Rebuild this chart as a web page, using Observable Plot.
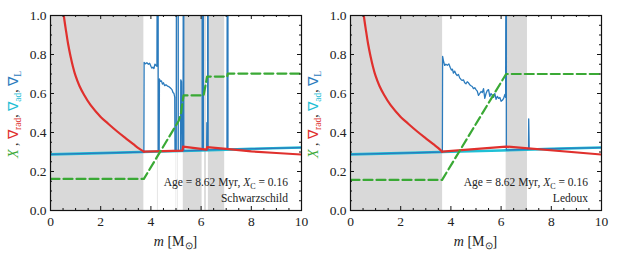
<!DOCTYPE html>
<html><head><meta charset="utf-8">
<script src="https://cdn.jsdelivr.net/npm/d3@7"></script>
<script src="https://cdn.jsdelivr.net/npm/@observablehq/plot@0.6"></script>
<style>
body{margin:0;background:#fff;}
#wrap{position:relative;width:618px;height:257px;overflow:hidden;background:#fff;}
#wrap svg{position:absolute;top:0;}
</style></head><body><div id="wrap"></div>
<script>
// ---------- data ----------
const xMajor = [0, 2, 4, 6, 8, 10];
const xMinor = [0.5, 1, 1.5, 2.5, 3, 3.5, 4.5, 5, 5.5, 6.5, 7, 7.5, 8.5, 9, 9.5];
const yMajor = [0, 0.2, 0.4, 0.6, 0.8, 1.0];
const yMinor = [0.05, 0.1, 0.15, 0.25, 0.3, 0.35, 0.45, 0.5, 0.55, 0.65, 0.7, 0.75, 0.85, 0.9, 0.95];

const panelNames = ["Schwarzschild", "Ledoux"];
const ageText = ["Age", "=", "8.62", "Myr,", "X", "C", "=", "0.16"];

// adiabatic gradient (same in both panels)
const gradAd = [[0, 0.288], [2, 0.294], [4, 0.301], [6, 0.308], [8, 0.316], [10, 0.323]];

// radiative gradient: smooth decay in the core, then the envelope part
const radDecay = [[0.45, 1.1], [0.53, 1.0], [0.62, 0.92], [0.7, 0.855], [0.8, 0.79], [0.9, 0.735], [1.0, 0.69],
  [1.15, 0.64], [1.33, 0.595], [1.6, 0.54], [2.0, 0.48], [2.3, 0.445], [2.66, 0.405], [3.0, 0.37], [3.3, 0.34],
  [3.5, 0.32]];
const radEndSchw = [3.72, 0.302];
const radEndLed = [3.65, 0.302];
const radTailSchw = [[3.72, 0.302], [4.5, 0.304], [5.26, 0.307], [5.28, 0.328], [6.0, 0.316], [6.22, 0.312],
  [6.24, 0.325], [7.0, 0.316], [8.0, 0.303], [9.0, 0.295], [10, 0.287]];
const radTailLed = [[3.65, 0.302], [6.2, 0.328], [10, 0.287]];

// hydrogen abundance X
const xSchw = [[0, 0.162], [3.72, 0.162], [5.11, 0.46], [5.2, 0.5], [5.3, 0.59], [6.1, 0.59], [6.24, 0.687],
  [7.04, 0.687], [7.06, 0.702], [10, 0.702]];
const xLed = [[0, 0.157], [3.65, 0.157], [6.2, 0.70], [10, 0.70]];

// Ledoux gradient
const gradLSchw = [[0, 0.288], [3.72, 0.300],
  [3.73, 0.76], [3.78, 0.752], [3.84, 0.758], [3.9, 0.75], [3.95, 0.755], [4.0, 0.74], [4.04, 0.73], [4.08, 0.735],
  [4.12, 0.728], [4.16, 0.75], [4.2, 0.745], [4.24, 0.74],
  [4.25, 1.2], [4.29, 1.2], [4.29, 0.303], [4.33, 0.303], [4.34, 0.675], [4.38, 0.662], [4.42, 0.665], [4.46, 0.648],
  [4.5, 0.655], [4.55, 0.64], [4.6, 0.645], [4.66, 0.638], [4.72, 0.635], [4.78, 0.628], [4.84, 0.62], [4.88, 0.605],
  [4.92, 0.6], [4.95, 0.58], [4.96, 0.303], [5.01, 0.303], [5.02, 1.2], [5.09, 1.2], [5.09, 0.305], [5.18, 0.305],
  [5.19, 0.67], [5.22, 0.66], [5.24, 0.305], [5.28, 0.305], [5.29, 1.2], [5.31, 1.2], [5.31, 0.306],
  [6.04, 0.309], [6.04, 1.2], [6.09, 1.2], [6.09, 0.31], [6.22, 0.31], [6.23, 0.45], [6.24, 0.31], [6.26, 0.31],
  [6.26, 1.2], [6.28, 1.2], [6.28, 0.311], [7.03, 0.313], [7.04, 1.2], [7.07, 1.2], [7.07, 0.313], [10, 0.323]];
const gradLLed = [[0, 0.288], [3.66, 0.300], [3.67, 0.79], [3.7, 0.77], [3.75, 0.744], [3.8, 0.75], [3.86, 0.745],
  [3.92, 0.752], [3.97, 0.735], [4.02, 0.72], [4.06, 0.725], [4.1, 0.705], [4.15, 0.715], [4.2, 0.70], [4.25, 0.692],
  [4.3, 0.698], [4.35, 0.68], [4.4, 0.672], [4.45, 0.667], [4.5, 0.67], [4.55, 0.655], [4.6, 0.65], [4.65, 0.66],
  [4.7, 0.655], [4.75, 0.645], [4.8, 0.64], [4.85, 0.636], [4.9, 0.625], [4.95, 0.63], [5.0, 0.62], [5.05, 0.612],
  [5.1, 0.59], [5.15, 0.6], [5.2, 0.61], [5.25, 0.605], [5.3, 0.625], [5.35, 0.575], [5.4, 0.6], [5.45, 0.615],
  [5.5, 0.62], [5.55, 0.585], [5.6, 0.6], [5.65, 0.59], [5.7, 0.58], [5.75, 0.6], [5.8, 0.57], [5.85, 0.585],
  [5.9, 0.575], [5.95, 0.58], [6.0, 0.56], [6.05, 0.565], [6.1, 0.575], [6.15, 0.595], [6.18, 0.58],
  [6.19, 1.2], [6.21, 1.2], [6.21, 0.31], [7.09, 0.314], [7.1, 0.47], [7.12, 0.315], [10, 0.323]];

// convective zones [start, end]
const convSchw = [[0, 3.72], [5.29, 6.04], [6.14, 6.21], [6.29, 6.94]];
const convSchwThin = [[4.26, 4.3], [5.0, 5.03], [5.07, 5.1]];
const convLed = [[0, 3.67], [6.2, 7.05]];

// ---------- drawing ----------
const RED = "#e0302d", GREEN = "#3aa935", BLUE = "#2b7bbd", CYAN = "#1fc0d6", GRAY = "#d9d9d9";
const FONT = "Liberation Serif, Times New Roman, serif";

function panel(cfg) {
  const W = 309, H = 257, mL = 50, mR = 8, mT = 15, mB = 47;
  const PW = W - mL - mR, PH = H - mT - mB;
  const line = (data, opt) => Plot.line(data, {x: d => d[0], y: d => d[1], clip: true, ...opt});
  const ax = "#111";
  const svg = Plot.plot({
    width: W, height: H, marginLeft: mL, marginRight: mR, marginTop: mT, marginBottom: mB,
    style: {background: "none", fontFamily: FONT, fontSize: "13.5px", color: "#222"},
    x: {domain: [0, 10], label: null},
    y: {domain: [0, 1], label: null},
    marks: [
      Plot.rect(cfg.conv, {x1: d => d[0], x2: d => d[1], fill: GRAY}),
      Plot.rect(cfg.thin, {x1: d => d[0], x2: d => d[1], fill: "#e6e6e6"}),
      line(gradAd, {stroke: CYAN, strokeWidth: 2.6}),
      line(cfg.blue, {stroke: BLUE, strokeWidth: 1.3}),
      line(cfg.redCore, {stroke: RED, strokeWidth: 2.2, curve: "catmull-rom"}),
      line(cfg.redTail, {stroke: RED, strokeWidth: 2.2}),
      line(cfg.green, {stroke: GREEN, strokeWidth: 2.2, strokeDasharray: "9,4"}),
      // inward ticks on all four sides
      Plot.tickX(xMajor, {x: d => d, insetTop: PH - 4, stroke: ax}),
      Plot.tickX(xMinor, {x: d => d, insetTop: PH - 2, stroke: ax}),
      Plot.tickX(xMajor, {x: d => d, insetBottom: PH - 4, stroke: ax}),
      Plot.tickX(xMinor, {x: d => d, insetBottom: PH - 2, stroke: ax}),
      Plot.tickY(yMajor, {y: d => d, insetRight: PW - 4, stroke: ax}),
      Plot.tickY(yMinor, {y: d => d, insetRight: PW - 2, stroke: ax}),
      Plot.tickY(yMajor, {y: d => d, insetLeft: PW - 4, stroke: ax}),
      Plot.tickY(yMinor, {y: d => d, insetLeft: PW - 2, stroke: ax}),
      Plot.axisX(xMajor, {anchor: "bottom", tickSize: 0, tickPadding: 6, fill: "#222", label: null, tickFormat: d => String(d)}),
      Plot.axisY(yMajor, {anchor: "left", tickSize: 0, tickPadding: 4, fill: "#222", label: null, tickFormat: d => d.toFixed(1)}),
      Plot.frame({stroke: ax, strokeWidth: 1.2})
    ]
  });
  const s = d3.select(svg);
  // y label
  const yl = s.append("text").attr("transform", `translate(${mL - 32},${mT + PH / 2 + 2}) rotate(-90)`)
    .attr("text-anchor", "middle").attr("font-size", 14).attr("font-family", FONT).attr("fill", "#222");
  yl.append("tspan").attr("font-style", "italic").attr("fill", GREEN).text("X");
  yl.append("tspan").text(" , ");
  yl.append("tspan").attr("fill", RED).text("∇");
  yl.append("tspan").attr("fill", RED).attr("font-size", 9.5).attr("dy", 3).text("rad");
  yl.append("tspan").attr("dy", -3).text(", ");
  yl.append("tspan").attr("fill", CYAN).text("∇");
  yl.append("tspan").attr("fill", CYAN).attr("font-size", 9.5).attr("dy", 3).text("ad");
  yl.append("tspan").attr("dy", -3).text(", ");
  yl.append("tspan").attr("fill", BLUE).text("∇");
  yl.append("tspan").attr("fill", BLUE).attr("font-size", 9.5).attr("dy", 3).text("L");
  // x label
  const xl = s.append("text").attr("x", mL + PW / 2).attr("y", 246)
    .attr("text-anchor", "middle").attr("font-size", 14).attr("font-family", FONT).attr("fill", "#222");
  xl.append("tspan").attr("font-style", "italic").text("m");
  xl.append("tspan").text(" [M");
  xl.append("tspan").attr("font-size", 9.5).attr("dy", 3).text("⊙");
  xl.append("tspan").attr("dy", -3).text("]");
  // annotations
  const ann = s.append("text").attr("x", W - mR - 13).attr("y", 186)
    .attr("text-anchor", "end").attr("font-size", 11.5).attr("font-family", FONT).attr("fill", "#222");
  ann.append("tspan").text(ageText[0] + " " + ageText[1] + " " + ageText[2] + " " + ageText[3] + " ");
  ann.append("tspan").attr("font-style", "italic").text(ageText[4]);
  ann.append("tspan").attr("font-size", 8).attr("dy", 2.5).text(ageText[5]);
  ann.append("tspan").attr("dy", -2.5).text(" " + ageText[6] + " " + ageText[7]);
  s.append("text").attr("x", W - mR - 13).attr("y", 202).attr("text-anchor", "end")
    .attr("font-size", 11.5).attr("font-family", FONT).attr("fill", "#222").text(cfg.name);
  svg.style.left = cfg.left + "px";
  return svg;
}

const wrap = document.getElementById("wrap");
wrap.appendChild(panel({conv: convSchw, thin: convSchwThin, blue: gradLSchw,
  redCore: radDecay.concat([radEndSchw]), redTail: radTailSchw,
  green: xSchw, name: panelNames[0], left: 0}));
wrap.appendChild(panel({conv: convLed, thin: [], blue: gradLLed,
  redCore: radDecay.concat([radEndLed]), redTail: radTailLed,
  green: xLed, name: panelNames[1], left: 300}));
</script></body></html>
